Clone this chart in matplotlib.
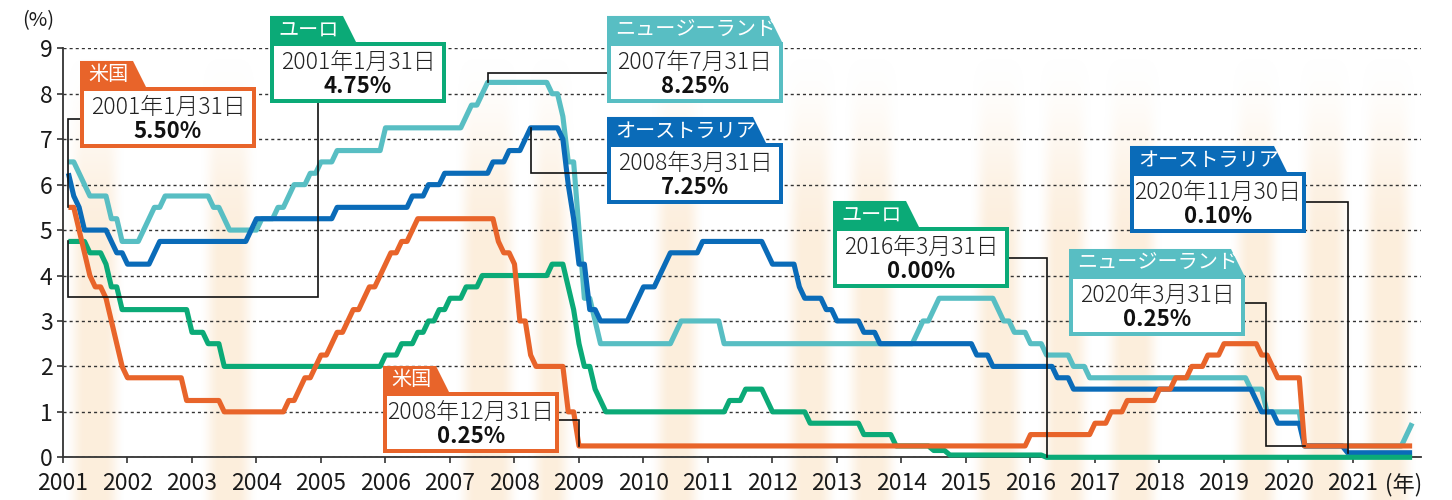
import numpy as np
import matplotlib
matplotlib.use('Agg')
import matplotlib.pyplot as plt
from matplotlib.patches import Rectangle, Polygon

plt.rcParams['font.family'] = ['Noto Sans CJK JP', 'DejaVu Sans']

# policy rates, month-end values (vertices of the line)
us_dates = ['2001-01', '2001-02', '2001-03', '2001-04', '2001-05', '2001-06', '2001-07', '2001-08',
            '2001-09', '2001-10', '2001-11', '2001-12', '2002-10', '2002-11', '2003-05', '2003-06',
            '2004-05', '2004-06', '2004-07', '2004-08', '2004-09', '2004-10', '2004-11', '2004-12',
            '2005-01', '2005-02', '2005-03', '2005-04', '2005-05', '2005-06', '2005-07', '2005-08',
            '2005-09', '2005-10', '2005-11', '2005-12', '2006-01', '2006-02', '2006-03', '2006-04',
            '2006-05', '2006-06', '2007-08', '2007-09', '2007-10', '2007-11', '2007-12', '2008-01',
            '2008-02', '2008-03', '2008-04', '2008-09', '2008-10', '2008-11', '2008-12', '2015-11',
            '2015-12', '2016-11', '2016-12', '2017-02', '2017-03', '2017-05', '2017-06', '2017-11',
            '2017-12', '2018-02', '2018-03', '2018-05', '2018-06', '2018-08', '2018-09', '2018-11',
            '2018-12', '2019-06', '2019-07', '2019-08', '2019-09', '2019-10', '2020-02', '2020-03',
            '2021-11']
us_rates = [5.50, 5.50, 5.00, 4.50, 4.00, 3.75, 3.75, 3.50,
            3.00, 2.50, 2.00, 1.75, 1.75, 1.25, 1.25, 1.00,
            1.00, 1.25, 1.25, 1.50, 1.75, 1.75, 2.00, 2.25,
            2.25, 2.50, 2.75, 2.75, 3.00, 3.25, 3.25, 3.50,
            3.75, 3.75, 4.00, 4.25, 4.50, 4.50, 4.75, 4.75,
            5.00, 5.25, 5.25, 4.75, 4.50, 4.50, 4.25, 3.00,
            3.00, 2.25, 2.00, 2.00, 1.00, 1.00, 0.25, 0.25,
            0.50, 0.50, 0.75, 0.75, 1.00, 1.00, 1.25, 1.25,
            1.50, 1.50, 1.75, 1.75, 2.00, 2.00, 2.25, 2.25,
            2.50, 2.50, 2.25, 2.25, 2.00, 1.75, 1.75, 0.25,
            0.25]

eu_dates = ['2001-01', '2001-04', '2001-05', '2001-07', '2001-08', '2001-09', '2001-10', '2001-11',
            '2002-11', '2002-12', '2003-02', '2003-03', '2003-05', '2003-06', '2005-11', '2005-12',
            '2006-02', '2006-03', '2006-05', '2006-06', '2006-07', '2006-08', '2006-09', '2006-10',
            '2006-11', '2006-12', '2007-02', '2007-03', '2007-05', '2007-06', '2008-06', '2008-07',
            '2008-09', '2008-10', '2008-11', '2008-12', '2009-01', '2009-02', '2009-03', '2009-04',
            '2009-05', '2011-03', '2011-04', '2011-06', '2011-07', '2011-10', '2011-11', '2011-12',
            '2012-06', '2012-07', '2013-04', '2013-05', '2013-10', '2013-11', '2014-05', '2014-06',
            '2014-08', '2014-09', '2016-02', '2016-03', '2021-11']
eu_rates = [4.75, 4.75, 4.50, 4.50, 4.25, 3.75, 3.75, 3.25,
            3.25, 2.75, 2.75, 2.50, 2.50, 2.00, 2.00, 2.25,
            2.25, 2.50, 2.50, 2.75, 2.75, 3.00, 3.00, 3.25,
            3.25, 3.50, 3.50, 3.75, 3.75, 4.00, 4.00, 4.25,
            4.25, 3.75, 3.25, 2.50, 2.00, 2.00, 1.50, 1.25,
            1.00, 1.00, 1.25, 1.25, 1.50, 1.50, 1.25, 1.00,
            1.00, 0.75, 0.75, 0.50, 0.50, 0.25, 0.25, 0.15,
            0.15, 0.05, 0.05, 0.00, 0.00]

au_dates = ['2001-01', '2001-02', '2001-03', '2001-04', '2001-08', '2001-09', '2001-10', '2001-11',
            '2001-12', '2002-04', '2002-05', '2002-06', '2003-10', '2003-11', '2003-12', '2005-02',
            '2005-03', '2006-04', '2006-05', '2006-07', '2006-08', '2006-10', '2006-11', '2007-07',
            '2007-08', '2007-10', '2007-11', '2008-01', '2008-02', '2008-03', '2008-08', '2008-09',
            '2008-10', '2008-11', '2008-12', '2009-01', '2009-02', '2009-03', '2009-04', '2009-09',
            '2009-10', '2009-11', '2009-12', '2010-02', '2010-03', '2010-04', '2010-05', '2010-10',
            '2010-11', '2011-10', '2011-11', '2011-12', '2012-04', '2012-05', '2012-06', '2012-09',
            '2012-10', '2012-11', '2012-12', '2013-04', '2013-05', '2013-07', '2013-08', '2015-01',
            '2015-02', '2015-04', '2015-05', '2016-04', '2016-05', '2016-07', '2016-08', '2019-05',
            '2019-06', '2019-07', '2019-09', '2019-10', '2020-02', '2020-03', '2020-10', '2020-11',
            '2021-11']
au_rates = [6.25, 5.75, 5.50, 5.00, 5.00, 4.75, 4.50, 4.50,
            4.25, 4.25, 4.50, 4.75, 4.75, 5.00, 5.25, 5.25,
            5.50, 5.50, 5.75, 5.75, 6.00, 6.00, 6.25, 6.25,
            6.50, 6.50, 6.75, 6.75, 7.00, 7.25, 7.25, 7.00,
            6.00, 5.25, 4.25, 4.25, 3.25, 3.25, 3.00, 3.00,
            3.25, 3.50, 3.75, 3.75, 4.00, 4.25, 4.50, 4.50,
            4.75, 4.75, 4.50, 4.25, 4.25, 3.75, 3.50, 3.50,
            3.25, 3.25, 3.00, 3.00, 2.75, 2.75, 2.50, 2.50,
            2.25, 2.25, 2.00, 2.00, 1.75, 1.75, 1.50, 1.50,
            1.25, 1.00, 1.00, 0.75, 0.75, 0.25, 0.25, 0.10,
            0.10]

nz_dates = ['2001-01', '2001-02', '2001-03', '2001-04', '2001-05', '2001-08', '2001-09', '2001-10',
            '2001-11', '2002-02', '2002-03', '2002-04', '2002-05', '2002-06', '2002-07', '2003-03',
            '2003-04', '2003-05', '2003-06', '2003-07', '2003-12', '2004-01', '2004-03', '2004-04',
            '2004-05', '2004-06', '2004-07', '2004-09', '2004-10', '2004-11', '2004-12', '2005-02',
            '2005-03', '2005-11', '2005-12', '2007-02', '2007-03', '2007-04', '2007-05', '2007-06',
            '2007-07', '2008-06', '2008-07', '2008-08', '2008-09', '2008-10', '2008-11', '2008-12',
            '2009-01', '2009-02', '2009-03', '2009-04', '2010-05', '2010-06', '2010-07', '2011-02',
            '2011-03', '2014-02', '2014-03', '2014-04', '2014-05', '2014-06', '2014-07', '2015-05',
            '2015-06', '2015-07', '2015-08', '2015-09', '2015-11', '2015-12', '2016-02', '2016-03',
            '2016-07', '2016-08', '2016-10', '2016-11', '2019-04', '2019-05', '2019-07', '2019-08',
            '2020-02', '2020-03', '2021-09', '2021-10', '2021-11']
nz_rates = [6.50, 6.50, 6.25, 6.00, 5.75, 5.75, 5.25, 5.25,
            4.75, 4.75, 5.00, 5.25, 5.50, 5.50, 5.75, 5.75,
            5.50, 5.50, 5.25, 5.00, 5.00, 5.25, 5.25, 5.50,
            5.50, 5.75, 6.00, 6.00, 6.25, 6.25, 6.50, 6.50,
            6.75, 6.75, 7.25, 7.25, 7.50, 7.75, 7.75, 8.00,
            8.25, 8.25, 8.00, 8.00, 7.50, 6.50, 6.50, 5.00,
            3.50, 3.50, 3.00, 2.50, 2.50, 2.75, 3.00, 3.00,
            2.50, 2.50, 2.75, 3.00, 3.00, 3.25, 3.50, 3.50,
            3.25, 3.00, 3.00, 2.75, 2.75, 2.50, 2.50, 2.25,
            2.25, 2.00, 2.00, 1.75, 1.75, 1.50, 1.50, 1.00,
            1.00, 0.25, 0.25, 0.50, 0.75]

year_ticks = list(range(2001, 2022))
rate_ticks = list(range(0, 10))

US_C = '#E8642A'
EU_C = '#0BAA77'
AU_C = '#0A6BB8'
NZ_C = '#58BEC3'

series = {
    '米国': (us_dates, us_rates, US_C),
    'ユーロ': (eu_dates, eu_rates, EU_C),
    'オーストラリア': (au_dates, au_rates, AU_C),
    'ニュージーランド': (nz_dates, nz_rates, NZ_C),
}

# callouts: series, month, date text
callouts = [
    ('米国', '2001-01', '2001年1月31日'),
    ('ユーロ', '2001-01', '2001年1月31日'),
    ('ニュージーランド', '2007-07', '2007年7月31日'),
    ('オーストラリア', '2008-03', '2008年3月31日'),
    ('米国', '2008-12', '2008年12月31日'),
    ('ユーロ', '2016-03', '2016年3月31日'),
    ('ニュージーランド', '2020-03', '2020年3月31日'),
    ('オーストラリア', '2020-11', '2020年11月30日'),
]


def to_year(ym):
    y, m = ym.split('-')
    return int(y) + int(m) / 12


# pixel geometry of the plot area
W, H = 1452, 500
X0_PX, PX_PER_YEAR = 63, 64.5
Y0_PX, PX_PER_UNIT = 457.3, 45.44
px = 1 / PX_PER_YEAR
py = 1 / PX_PER_UNIT


def xpx(p):
    return 2001 + (p - X0_PX) / PX_PER_YEAR


def ypx(p):
    return (Y0_PX - p) / PX_PER_UNIT


fig = plt.figure(figsize=(W / 100, H / 100), dpi=100)
fig.patch.set_facecolor('white')

# soft background columns
bands = [(2001.03, 2001.96), (2003.12, 2004.02), (2007.08, 2008.09), (2008.19, 2008.94),
         (2010.10, 2010.95), (2012.16, 2013.02), (2013.10, 2013.98), (2015.06, 2015.95),
         (2016.10, 2016.97), (2017.12, 2018.05), (2019.09, 2019.91), (2020.13, 2021.00),
         (2021.10, 2021.99)]
bg = fig.add_axes([0, 0, 1, 1], zorder=0)
bg.set_axis_off()
xs = xpx(np.arange(W) + 0.5)
alpha_h = np.zeros(W)
for a, b in bands:
    left = np.clip((xs - a) / (20 * px), 0, 1)
    right = np.clip((b - xs) / (20 * px), 0, 1)
    prof = np.minimum(left, right)
    prof = prof * prof * (3 - 2 * prof)
    alpha_h = np.maximum(alpha_h, prof)
ys = np.arange(H) + 0.5
alpha_v = np.clip((ys - 50) / 200, 0, 1)
alpha_v = alpha_v * alpha_v * (3 - 2 * alpha_v)
img = np.zeros((H, W, 4))
img[..., 0] = 0.988
img[..., 1] = 0.902
img[..., 2] = 0.800
img[..., 3] = 0.68 * np.outer(alpha_v, alpha_h)
bg.imshow(img, extent=[0, W, H, 0], aspect='auto', interpolation='bilinear')
bg.set_xlim(0, W)
bg.set_ylim(H, 0)

x_right = xpx(1421)
ax = fig.add_axes([X0_PX / W, (H - Y0_PX) / H, (1421 - X0_PX) / W, (Y0_PX - 48.3) / H], zorder=1)
ax.set_facecolor('none')
ax.set_xlim(2001, x_right)
ax.set_ylim(0, 9)

for name in ['ニュージーランド', 'オーストラリア', 'ユーロ', '米国']:
    d, r, c = series[name]
    ax.plot([to_year(v) for v in d], r, color=c, lw=3.7, solid_joinstyle='round',
            solid_capstyle='butt', clip_on=False, zorder=3)

ax.set_yticks(rate_ticks)
ax.set_xticks(year_ticks)
ax.set_xticklabels([str(y) for y in year_ticks])
ax.tick_params(axis='both', colors='#333', labelcolor='#1a1a1a', width=1.2, length=4.5,
               direction='out')
ax.tick_params(axis='y', labelsize=16.5, pad=3)
ax.tick_params(axis='x', labelsize=16.5, pad=6)
for s in ['top', 'right']:
    ax.spines[s].set_visible(False)
for s in ['left', 'bottom']:
    ax.spines[s].set_color('#333')
    ax.spines[s].set_linewidth(1.3)
ax.grid(axis='y', color='#333', lw=1.0, linestyle=(0, (2.2, 2.2)), zorder=1)
ax.set_axisbelow(True)

fig.text(38 / W, 1 - 21 / H, '(%)', fontsize=14.5, ha='center', va='center', color='#1a1a1a')
fig.text(1404 / W, 1 - 485 / H, '(年)', fontsize=16, ha='center', va='center', color='#1a1a1a')

# callout layout: body left/top in pixels, tab width, leader route in pixels
layout = [
    dict(left=80, top=87, tab=67, route='left', ly=119),
    dict(left=270, top=42, tab=87, route='under', lx=318, ly=297),
    dict(left=607, top=42, tab=176, route='left', ly=73),
    dict(left=607, top=143, tab=160, route='left', ly=173),
    dict(left=383, top=392, tab=67, route='right', ly=420),
    dict(left=833, top=227, tab=87, route='right', ly=258),
    dict(left=1069, top=275, tab=176, route='right_jog', ly=303, lx=1266),
    dict(left=1130, top=172, tab=158, route='right', ly=202),
]
BOX_W, BOX_H, TAB_H, SLANT = 176, 61, 26, 14
LINE_W = 4

for (name, month, date_text), lay in zip(callouts, layout):
    d, r, c = series[name]
    pt_x = to_year(month)
    pt_y = r[d.index(month)]
    value_text = f'{pt_y:.2f}%'

    # leader
    bl, bt = lay['left'], lay['top']
    br = bl + BOX_W
    if lay['route'] == 'left':
        xs_l = [xpx(bl), pt_x, pt_x]
        ys_l = [ypx(lay['ly']), ypx(lay['ly']), pt_y]
    elif lay['route'] == 'right':
        xs_l = [xpx(br), pt_x, pt_x]
        ys_l = [ypx(lay['ly']), ypx(lay['ly']), pt_y]
    elif lay['route'] == 'under':
        xs_l = [xpx(lay['lx']), xpx(lay['lx']), pt_x, pt_x]
        ys_l = [ypx(bt + BOX_H), ypx(lay['ly']), ypx(lay['ly']), pt_y]
    else:
        xs_l = [xpx(br), xpx(lay['lx']), xpx(lay['lx']), pt_x]
        ys_l = [ypx(lay['ly']), ypx(lay['ly']), pt_y, pt_y]
    ax.plot(xs_l, ys_l, color='#111', lw=1.2, clip_on=False, zorder=5,
            solid_joinstyle='miter')

    # tab
    tl, tr = bl, bl + lay['tab']
    tab = Polygon([(xpx(tl), ypx(bt + 2)), (xpx(tl), ypx(bt - TAB_H)),
                   (xpx(tr - SLANT), ypx(bt - TAB_H)), (xpx(tr), ypx(bt + 2))],
                  closed=True, facecolor=c, edgecolor='none', clip_on=False, zorder=6)
    ax.add_patch(tab)
    ax.text(xpx(tl + 8), ypx(bt - TAB_H / 2 + 1), name, color='white', fontsize=14.5,
            ha='left', va='center', zorder=8, clip_on=False)

    # body
    body = Rectangle((xpx(bl + LINE_W / 2), ypx(bt + BOX_H - LINE_W / 2)),
                     (BOX_W - LINE_W) * px, (BOX_H - LINE_W) * py,
                     facecolor='white', edgecolor=c, lw=LINE_W * 0.72, clip_on=False,
                     zorder=7)
    ax.add_patch(body)
    cx = xpx(bl + BOX_W / 2)
    ax.text(cx, ypx(bt + 20), date_text, fontsize=16.5, fontweight='light', color='#222',
            ha='center', va='center', zorder=8, clip_on=False)
    ax.text(cx, ypx(bt + 45), value_text, fontsize=16, fontweight='bold', color='#111',
            ha='center', va='center', zorder=8, clip_on=False)

fig.savefig('out.png', dpi=100, facecolor='white')
